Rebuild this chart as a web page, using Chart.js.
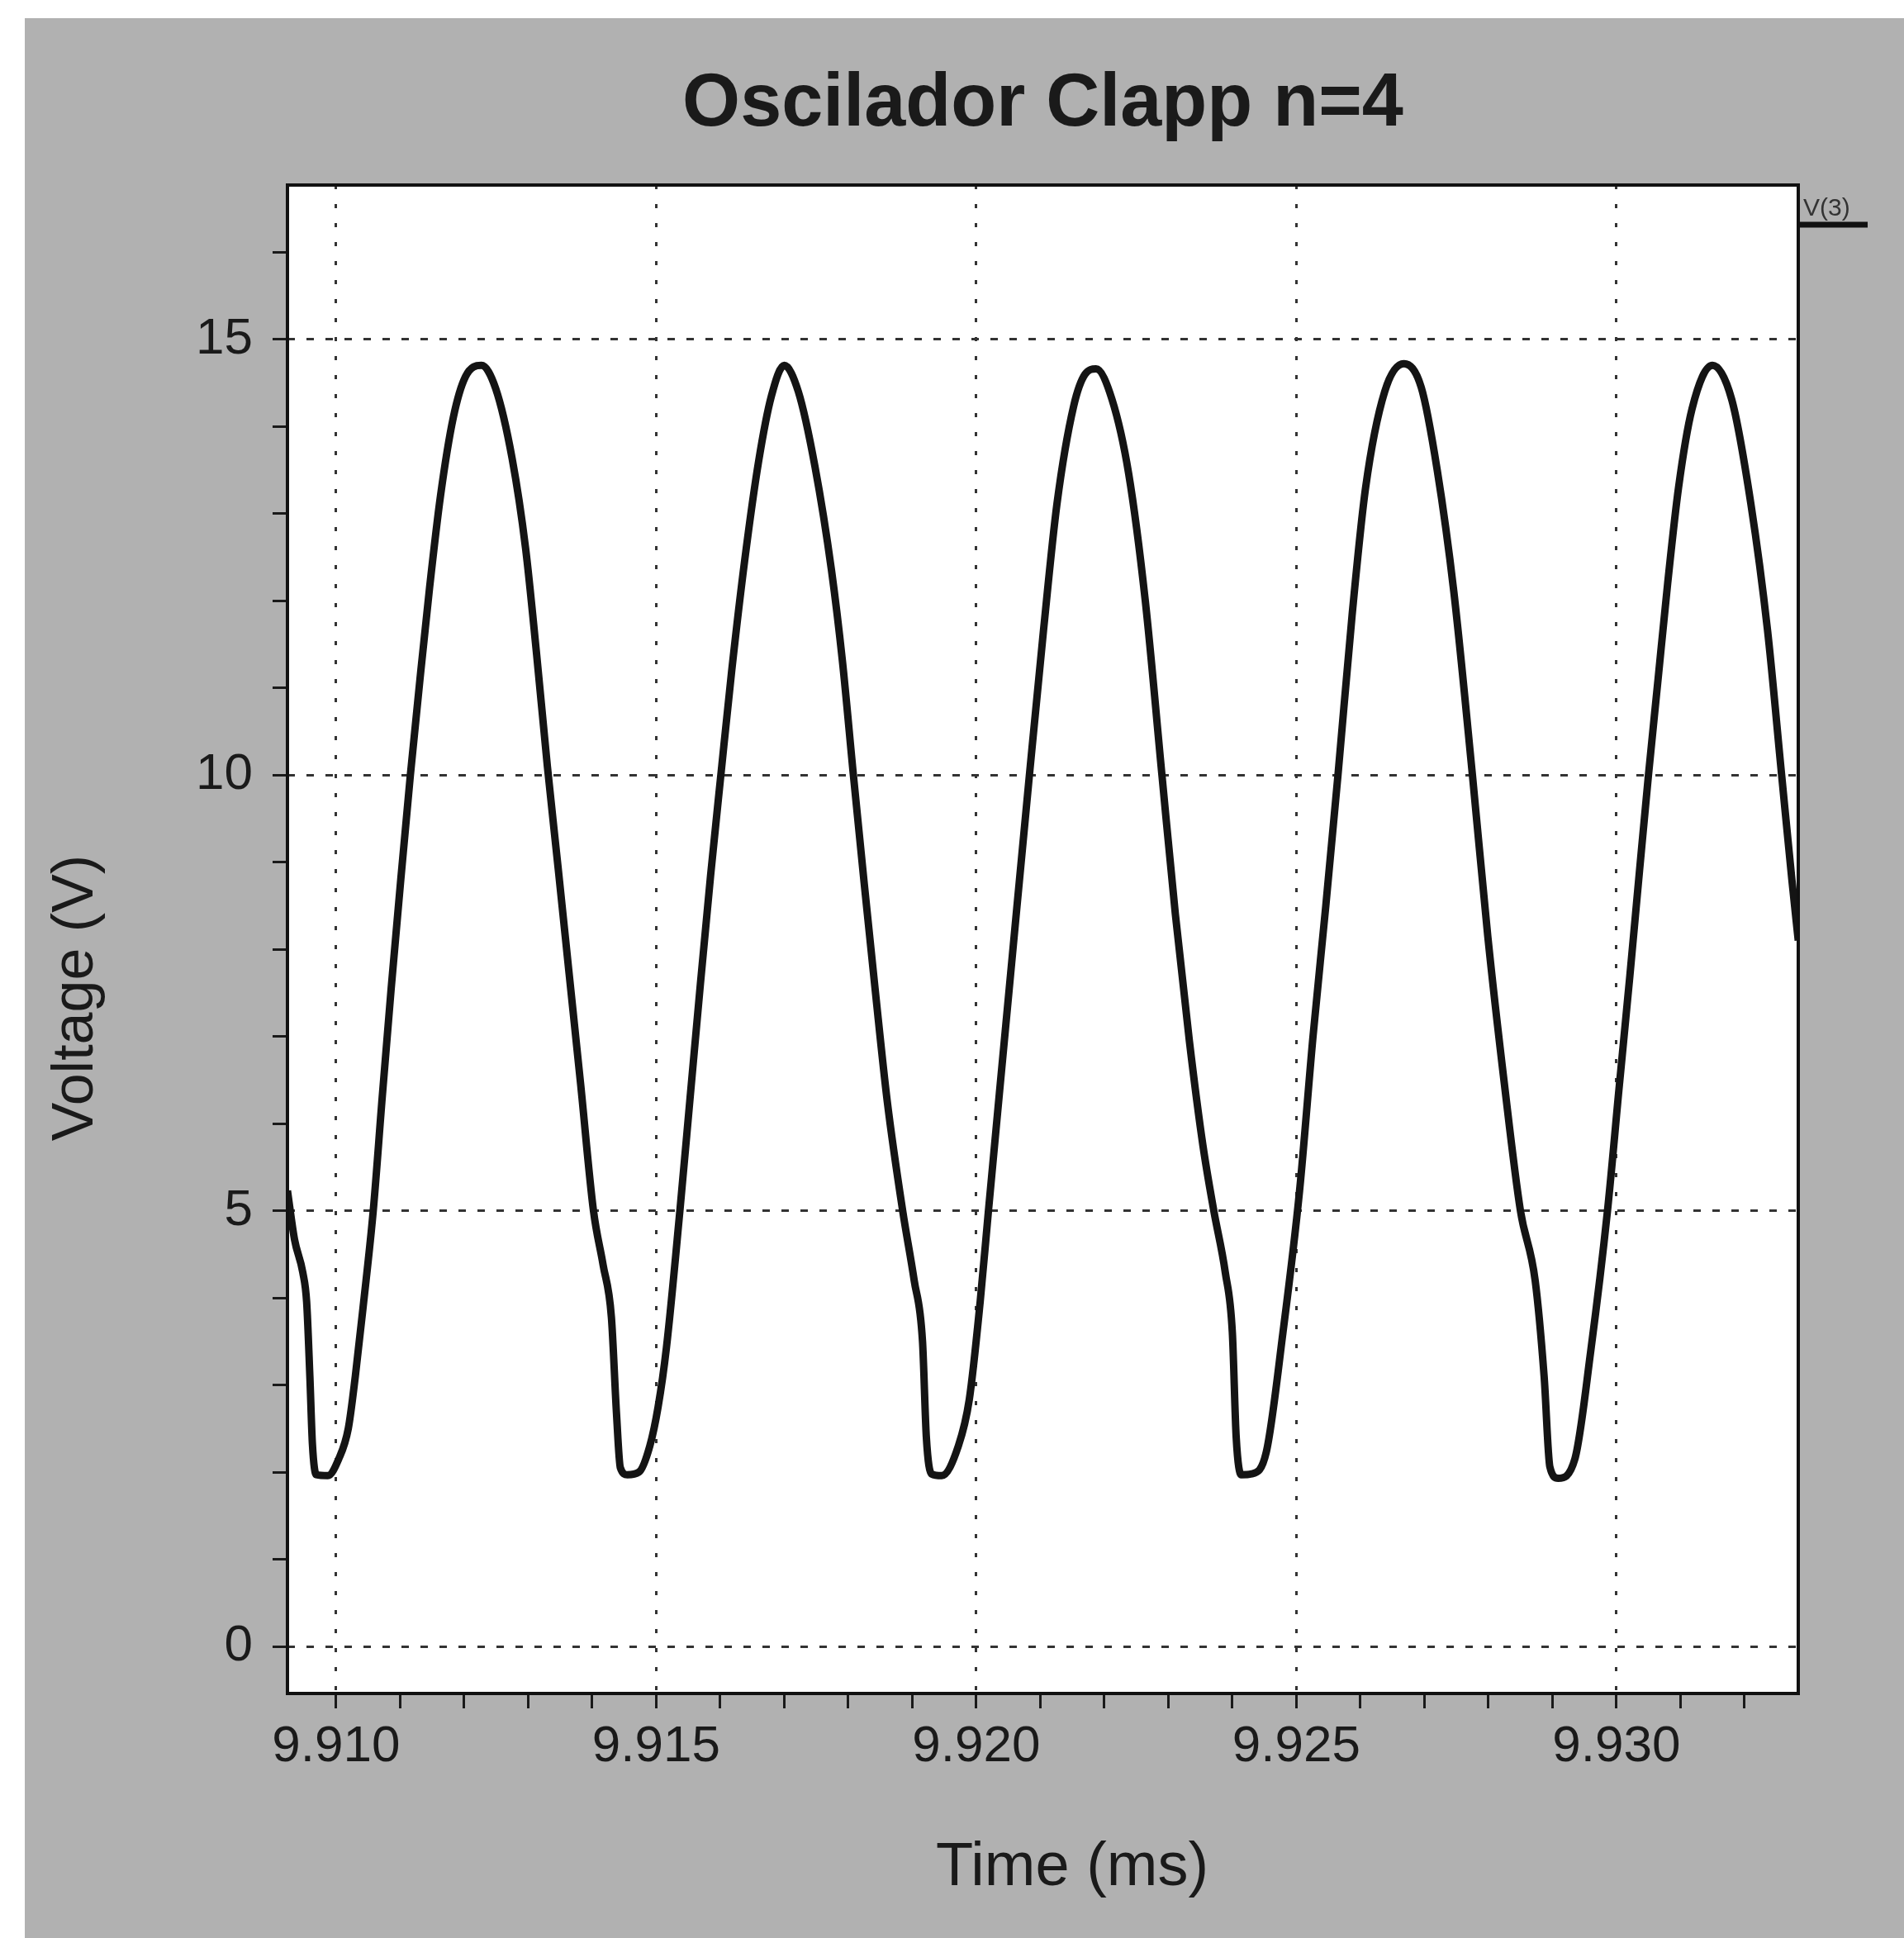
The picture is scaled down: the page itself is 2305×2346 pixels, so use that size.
<!DOCTYPE html>
<html>
<head>
<meta charset="utf-8">
<title>Oscilador Clapp n=4</title>
<script src="https://cdn.jsdelivr.net/npm/chart.js@4.4.1/dist/chart.umd.min.js"></script>
<style>
  html, body { margin: 0; padding: 0; background: #ffffff; }
  canvas { display: block; }
</style>
</head>
<body>
<canvas id="myChart" width="2305" height="2346"></canvas>
<script>
const ctx = document.getElementById('myChart').getContext('2d');

const fontFamily = '"Liberation Sans", Arial, sans-serif';

// time axis (ms) and node voltage V(3)
const timeMs = [
    9.90924, 9.90935, 9.90948, 9.90954, 9.90959, 9.90963, 9.90969, 9.90987, 9.91004, 9.91019,
    9.91030, 9.91043, 9.91058, 9.91072, 9.91086, 9.91101, 9.91116, 9.91131, 9.91146, 9.91163,
    9.91183, 9.91202, 9.91227, 9.91249, 9.91275, 9.91296, 9.91313, 9.91330, 9.91347, 9.91364,
    9.91382, 9.91402, 9.91417, 9.91430, 9.91438, 9.91444,
    9.91455, 9.91473, 9.91490, 9.91503, 9.91516, 9.91537, 9.91553, 9.91569, 9.91585, 9.91601,
    9.91618, 9.91638, 9.91660, 9.91680, 9.91700, 9.91722, 9.91748, 9.91774, 9.91791, 9.91808,
    9.91825, 9.91842, 9.91861, 9.91885, 9.91903, 9.91916, 9.91922, 9.91930,
    9.91946, 9.91972, 9.91989, 9.92006, 9.92019, 9.92036, 9.92058, 9.92083, 9.92105, 9.92126,
    9.92152, 9.92170, 9.92187, 9.92212, 9.92238, 9.92264, 9.92290, 9.92311, 9.92333, 9.92354,
    9.92371, 9.92389, 9.92400, 9.92406, 9.92414, 9.92430,
    9.92453, 9.92479, 9.92505, 9.92526, 9.92546, 9.92565, 9.92587, 9.92608, 9.92638, 9.92668,
    9.92695, 9.92720, 9.92746, 9.92775, 9.92799, 9.92825, 9.92850, 9.92873, 9.92887, 9.92896,
    9.92909, 9.92935,
    9.92960, 9.92986, 9.93004, 9.93021, 9.93036, 9.93050, 9.93065, 9.93080, 9.93097, 9.93118,
    9.93150, 9.93180, 9.93210, 9.93236, 9.93258, 9.93274, 9.93284
];

const voltage = [
    5.23, 4.67, 4.29, 3.95, 3.10, 2.32, 1.97, 1.96, 2.15, 2.50,
    3.10, 3.95, 5.00, 6.30, 7.55, 8.80, 10.00, 11.10, 12.15, 13.20,
    14.10, 14.57, 14.70, 14.44, 13.63, 12.60, 11.40, 10.10, 8.92, 7.72,
    6.45, 5.00, 4.38, 3.78, 2.67, 2.05,
    1.97, 2.00, 2.30, 2.75, 3.43, 5.00, 6.30, 7.60, 8.85, 10.00,
    11.20, 12.45, 13.60, 14.35, 14.70, 14.40, 13.54, 12.34, 11.30, 10.00,
    8.75, 7.54, 6.25, 5.00, 4.20, 3.50, 2.40, 1.98,
    1.96, 2.30, 2.83, 3.95, 5.00, 6.34, 8.06, 10.00, 11.66, 13.11,
    14.23, 14.60, 14.66, 14.31, 13.46, 12.00, 10.00, 8.40, 6.94, 5.75,
    5.00, 4.29, 3.60, 2.40, 1.97, 1.98,
    2.23, 3.60, 5.23, 7.00, 8.50, 10.00, 11.83, 13.29, 14.40, 14.72,
    14.45, 13.50, 12.10, 10.00, 8.15, 6.45, 5.00, 4.20, 3.10, 2.06,
    1.93, 2.15,
    3.40, 5.00, 6.40, 7.70, 8.90, 10.00, 11.10, 12.20, 13.30, 14.20,
    14.70, 14.31, 13.11, 11.66, 10.00, 8.80, 8.10
];

// axis ranges and labelled ticks
const xRange = [9.90924, 9.93284];
const yRange = [-0.54, 16.77];
const xTickLabels = ['9.910', '9.915', '9.920', '9.925', '9.930'];
const yTickLabels = ['0', '5', '10', '15'];

const points = timeMs.map((t, i) => ({x: t, y: voltage[i]}));

const isMajorX = (v) => xTickLabels.includes(v.toFixed(3));
const isMajorY = (v) => yTickLabels.includes(String(Math.round(v * 100) / 100));

// gray scan background, white plot box, frame, axis titles and the little V(3) legend
const decorations = {
    id: 'decorations',
    beforeDraw(chart) {
        const c = chart.ctx;
        const a = chart.chartArea;
        c.save();
        c.fillStyle = '#ffffff';
        c.fillRect(0, 0, chart.width, chart.height);
        c.fillStyle = '#b1b1b1';
        c.fillRect(30, 22, chart.width - 30, chart.height - 22);
        c.fillStyle = '#ffffff';
        c.fillRect(a.left, a.top, a.right - a.left, a.bottom - a.top);
        c.restore();
    },
    afterDraw(chart) {
        const c = chart.ctx;
        const a = chart.chartArea;
        c.save();
        c.strokeStyle = '#111111';
        c.lineWidth = 4;
        c.strokeRect(a.left, a.top, a.right - a.left, a.bottom - a.top);

        c.fillStyle = '#1a1a1a';
        c.textAlign = 'center';
        c.textBaseline = 'middle';
        c.font = '74px ' + fontFamily;
        c.fillText('Time (ms)', 1298, 2262);

        c.save();
        c.translate(93, 1208);
        c.rotate(-Math.PI / 2);
        c.font = '70px ' + fontFamily;
        c.fillText('Voltage (V)', 0, 0);
        c.restore();

        c.font = '30px ' + fontFamily;
        c.textAlign = 'left';
        c.textBaseline = 'alphabetic';
        c.fillStyle = '#333333';
        c.fillText('V(3)', a.right + 6, 261);
        c.strokeStyle = '#111111';
        c.lineWidth = 7;
        c.beginPath();
        c.moveTo(a.right + 2, 272);
        c.lineTo(a.right + 84, 272);
        c.stroke();
        c.restore();
    }
};

const data = {
    datasets: [
        {
            label: 'V(3)',
            data: points,
            borderColor: '#141414',
            borderWidth: 9,
            pointRadius: 0,
            fill: false,
            cubicInterpolationMode: 'monotone',
        },
    ],
};

const config = {
    type: 'line',
    data: data,
    plugins: [decorations],
    options: {
        responsive: false,
        animation: false,
        layout: {
            padding: {top: 0, right: 128, bottom: 0, left: 0},
        },
        plugins: {
            legend: {display: false},
            tooltip: {enabled: false},
            title: {
                display: true,
                text: 'Oscilador Clapp n=4',
                fullSize: false,
                color: '#1a1a1a',
                font: {family: fontFamily, size: 90, weight: 'bold'},
                padding: {top: 73, bottom: 43},
            },
        },
        scales: {
            x: {
                type: 'linear',
                position: 'bottom',
                min: xRange[0],
                max: xRange[1],
                afterFit: (scale) => { scale.height = 296; },
                border: {display: false, dash: [5, 18]},
                grid: {
                    color: (c) => isMajorX(c.tick.value) ? '#333333' : 'rgba(0,0,0,0)',
                    lineWidth: 3,
                    tickColor: '#1a1a1a',
                    tickWidth: 3,
                    tickLength: 18,
                },
                ticks: {
                    stepSize: 0.001,
                    includeBounds: false,
                    autoSkip: false,
                    maxRotation: 0,
                    minRotation: 0,
                    padding: 10,
                    color: '#1a1a1a',
                    font: {family: fontFamily, size: 62},
                    callback: function(value) {
                        return isMajorX(value) ? value.toFixed(3) : '';
                    },
                },
            },
            y: {
                type: 'linear',
                position: 'left',
                min: yRange[0],
                max: yRange[1],
                afterFit: (scale) => { scale.width = 348; },
                border: {display: false, dash: [9, 14]},
                grid: {
                    color: (c) => isMajorY(c.tick.value) ? '#333333' : 'rgba(0,0,0,0)',
                    lineWidth: 3,
                    tickColor: '#1a1a1a',
                    tickWidth: 3,
                    tickLength: 18,
                },
                ticks: {
                    stepSize: 1,
                    includeBounds: false,
                    autoSkip: false,
                    padding: 24,
                    color: '#1a1a1a',
                    font: {family: fontFamily, size: 62},
                    callback: function(value) {
                        return isMajorY(value) ? String(value) : '';
                    },
                },
            },
        },
    },
};

const myChart = new Chart(ctx, config);
</script>
</body>
</html>
